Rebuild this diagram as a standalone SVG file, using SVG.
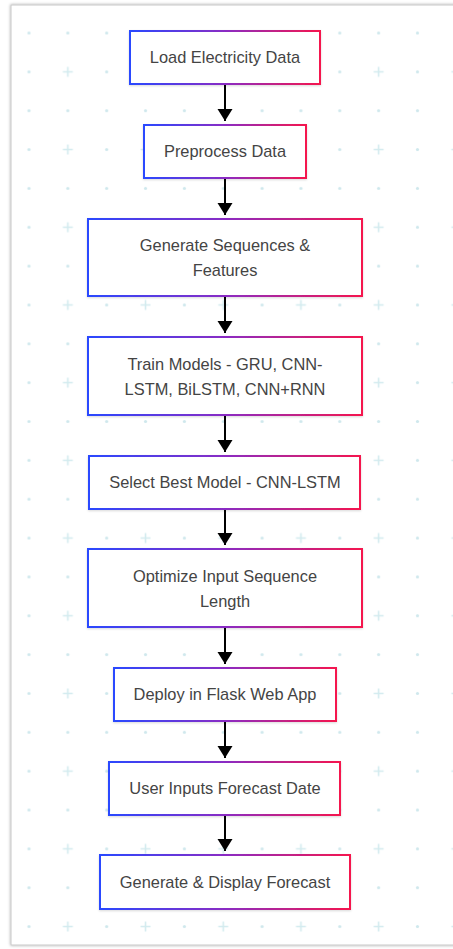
<svg xmlns="http://www.w3.org/2000/svg" width="453" height="949" viewBox="0 0 453 949">
<defs>
  <linearGradient id="bord" x1="0" y1="0" x2="1" y2="0">
    <stop offset="0" stop-color="#2948ff"/>
    <stop offset="0.5" stop-color="#8a2cc4"/>
    <stop offset="1" stop-color="#f5164e"/>
  </linearGradient>
  <pattern id="grid" patternUnits="userSpaceOnUse" x="9.575" y="13.575" width="77.7" height="77.7">
    <circle cx="19.425" cy="19.425" r="1.6" fill="#cfe8ed"/>
    <circle cx="58.275" cy="19.425" r="1.6" fill="#cfe8ed"/>
    <circle cx="19.425" cy="58.275" r="1.6" fill="#cfe8ed"/>
    <path d="M58.275 53.3 V63.25 M53.3 58.275 H63.25" stroke="#d3ebef" stroke-width="1.6"/>
  </pattern>
  <filter id="card" x="-5%" y="-5%" width="110%" height="110%">
    <feDropShadow dx="0" dy="0" stdDeviation="1.5" flood-color="#000" flood-opacity="0.35"/>
  </filter>
  <filter id="nsh" x="-10%" y="-20%" width="120%" height="140%">
    <feDropShadow dx="0" dy="1" stdDeviation="1" flood-color="#000" flood-opacity="0.15"/>
  </filter>
  <marker id="arr" markerUnits="userSpaceOnUse" markerWidth="14" markerHeight="16" refX="12" refY="7.5" orient="auto">
    <path d="M0,0 L12,7.5 L0,15 z" fill="#000"/>
  </marker>
</defs>
<style>
  .node rect { fill: #fff; stroke: url(#bord); stroke-width: 2; filter: url(#nsh); }
  .node text { font-family: "Liberation Sans", Arial, sans-serif; font-size: 16.4px; fill: #444; text-anchor: middle; }
  .edges line { stroke: #000; stroke-width: 2; marker-end: url(#arr); }
</style>
<rect x="0" y="0" width="453" height="949" fill="#fff"/>
<rect x="11" y="5" width="470" height="940" fill="#fff" stroke="#c8c8c8" stroke-width="1" filter="url(#card)"/>
<rect x="12" y="6" width="441" height="938" fill="url(#grid)"/>

<g id="edges" class="edges">
  <line x1="225" y1="84" x2="225" y2="121"/>
  <line x1="225" y1="178" x2="225" y2="215"/>
  <line x1="225" y1="296" x2="225" y2="333"/>
  <line x1="225" y1="415" x2="225" y2="452"/>
  <line x1="225" y1="509" x2="225" y2="545"/>
  <line x1="225" y1="627" x2="225" y2="664"/>
  <line x1="225" y1="721" x2="225" y2="758"/>
  <line x1="225" y1="815" x2="225" y2="851"/>
</g>

<g id="n1" class="node"><rect x="130" y="31" width="190" height="53"/><text x="225" y="63">Load Electricity Data</text></g>
<g id="n2" class="node"><rect x="144" y="125" width="162" height="53"/><text x="225" y="157">Preprocess Data</text></g>
<g id="n3" class="node"><rect x="88" y="219" width="274" height="77"/><text x="225" y="250.5">Generate Sequences &amp;</text><text x="225" y="275.5">Features</text></g>
<g id="n4" class="node"><rect x="88" y="337" width="274" height="78"/><text x="225" y="369.5">Train Models - GRU, CNN-</text><text x="225" y="394.5">LSTM, BiLSTM, CNN+RNN</text></g>
<g id="n5" class="node"><rect x="89" y="456" width="271" height="53"/><text x="225" y="488">Select Best Model - CNN-LSTM</text></g>
<g id="n6" class="node"><rect x="88" y="549" width="274" height="78"/><text x="225" y="581.5">Optimize Input Sequence</text><text x="225" y="606.5">Length</text></g>
<g id="n7" class="node"><rect x="114" y="668" width="222" height="53"/><text x="225" y="700">Deploy in Flask Web App</text></g>
<g id="n8" class="node"><rect x="109" y="762" width="231" height="53"/><text x="225" y="794">User Inputs Forecast Date</text></g>
<g id="n9" class="node"><rect x="100" y="855" width="250" height="54"/><text x="225" y="887.5">Generate &amp; Display Forecast</text></g>
</svg>
